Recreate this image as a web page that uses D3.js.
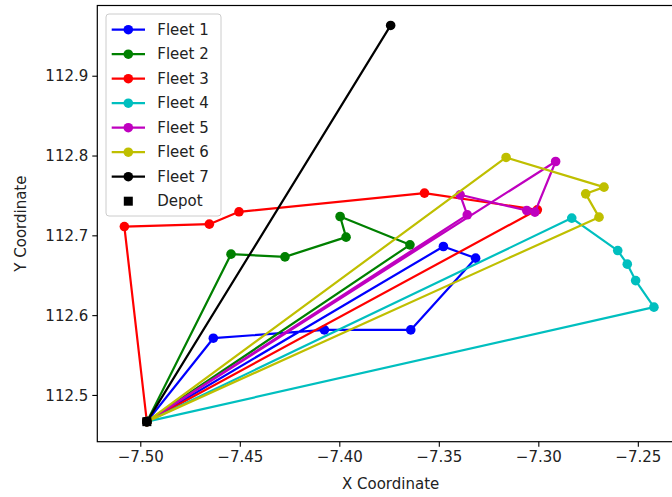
<!DOCTYPE html>
<html>
<head>
  <meta charset="utf-8">
  <script src="https://d3js.org/d3.v7.min.js"></script>
  <style>
    body { margin: 0; background: #fff; }
    svg { font-family: "DejaVu Sans", sans-serif; }
  </style>
</head>
<body>
  <div id="chart"></div>
  <script>
    // route data (x = longitude-ish, y = latitude-ish)
    var depot = [-7.4967, 112.4665];

    var fleetNames = ["Fleet 1", "Fleet 2", "Fleet 3", "Fleet 4", "Fleet 5", "Fleet 6", "Fleet 7"];
    var fleetColors = ["#0000ff", "#008000", "#ff0000", "#00bfbf", "#bf00bf", "#bfbf00", "#000000"];

    var fleet1 = [[-7.4633, 112.5711], [-7.4075, 112.5815], [-7.3641, 112.5815], [-7.3315, 112.6714], [-7.3477, 112.6860]];
    var fleet2 = [[-7.4544, 112.6764], [-7.4273, 112.6730], [-7.3966, 112.6977], [-7.3996, 112.7236], [-7.3645, 112.6881]];
    var fleet3 = [[-7.5080, 112.7110], [-7.4653, 112.7140], [-7.4504, 112.7295], [-7.3572, 112.7529], [-7.3005, 112.7320]];
    var fleet4 = [[-7.2832, 112.7216], [-7.2601, 112.6809], [-7.2553, 112.6639], [-7.2511, 112.6433], [-7.2419, 112.6100]];
    var fleet5 = [[-7.3357, 112.7257], [-7.3393, 112.7508], [-7.3058, 112.7311], [-7.3017, 112.7291], [-7.2913, 112.7925]];
    var fleet6 = [[-7.3162, 112.7976], [-7.2670, 112.7604], [-7.2762, 112.7520], [-7.2695, 112.7228]];
    var fleet7 = [[-7.3742, 112.9630]];

    var xTicks = [-7.50, -7.45, -7.40, -7.35, -7.30, -7.25];
    var yTicks = [112.5, 112.6, 112.7, 112.8, 112.9];

    var W = 672, H = 497;
    var plot = { left: 97.3, right: 684, top: 5.5, bottom: 441.7 };

    var routes = [fleet1, fleet2, fleet3, fleet4, fleet5, fleet6, fleet7].map(function (stops) {
      return [depot].concat(stops, [depot]);
    });

    var x = d3.scaleLinear().domain([-7.5216, -7.2268]).range([plot.left, plot.right]);
    var y = d3.scaleLinear().domain([112.4414, 112.988]).range([plot.bottom, plot.top]);

    var svg = d3.select("#chart").append("svg")
      .attr("width", W).attr("height", H);

    var line = d3.line().x(d => x(d[0])).y(d => y(d[1]));

    var g = svg.append("g");

    routes.forEach(function (r, i) {
      var fg = g.append("g");
      fg.append("path")
        .attr("d", line(r))
        .attr("fill", "none")
        .attr("stroke", fleetColors[i])
        .attr("stroke-width", 2.2)
        .attr("stroke-linejoin", "round")
        .attr("stroke-linecap", "square");
      fg.selectAll("circle").data(r).enter().append("circle")
        .attr("cx", d => x(d[0]))
        .attr("cy", d => y(d[1]))
        .attr("r", 4.8)
        .attr("fill", fleetColors[i]);
    });

    // depot marker
    g.append("rect")
      .attr("x", x(depot[0]) - 4.5)
      .attr("y", y(depot[1]) - 4.5)
      .attr("width", 9).attr("height", 9)
      .attr("fill", "#000");

    // axes
    var xAxis = d3.axisBottom(x).tickValues(xTicks).tickSize(5)
      .tickFormat(d => d3.format(".2f")(d).replace("-", "\u2212"));
    var yAxis = d3.axisLeft(y).tickValues(yTicks).tickSize(5)
      .tickFormat(d3.format(".1f"));

    var gx = svg.append("g").attr("transform", "translate(0," + plot.bottom + ")").call(xAxis);
    var gy = svg.append("g").attr("transform", "translate(" + plot.left + ",0)").call(yAxis);

    [gx, gy].forEach(function (a) {
      a.select(".domain").remove();
      a.selectAll(".tick line").attr("stroke", "#000").attr("stroke-width", 1.1);
      a.selectAll(".tick text").attr("fill", "#222").style("font-size", "15px")
        .style("font-family", "DejaVu Sans");
    });
    gx.selectAll(".tick text").attr("dy", "0.95em").attr("y", 6);
    gy.selectAll(".tick text").attr("x", -9).attr("dy", "0.35em");

    // spines
    svg.append("rect")
      .attr("x", plot.left).attr("y", plot.top)
      .attr("width", plot.right - plot.left).attr("height", plot.bottom - plot.top)
      .attr("fill", "none").attr("stroke", "#000").attr("stroke-width", 1.2);

    svg.append("text")
      .attr("x", (plot.left + plot.right) / 2)
      .attr("y", 489)
      .attr("text-anchor", "middle")
      .style("font-size", "15px").attr("fill", "#222")
      .text("X Coordinate");

    svg.append("text")
      .attr("transform", "translate(26," + ((plot.top + plot.bottom) / 2) + ") rotate(-90)")
      .attr("text-anchor", "middle")
      .style("font-size", "15px").attr("fill", "#222")
      .text("Y Coordinate");

    // legend
    var leg = svg.append("g");
    leg.append("rect")
      .attr("x", 106).attr("y", 14).attr("width", 115).attr("height", 202)
      .attr("rx", 3)
      .attr("fill", "#fff").attr("fill-opacity", 0.8)
      .attr("stroke", "#cccccc").attr("stroke-width", 1);

    var legItems = fleetNames.map((n, i) => ({ name: n, color: fleetColors[i], type: "line" }))
      .concat([{ name: "Depot", color: "#000", type: "square" }]);

    legItems.forEach(function (it, i) {
      var cy = 29.7 + i * 24.5;
      var row = leg.append("g");
      if (it.type === "line") {
        row.append("line")
          .attr("x1", 111.7).attr("x2", 145).attr("y1", cy).attr("y2", cy)
          .attr("stroke", it.color).attr("stroke-width", 2.2);
        row.append("circle")
          .attr("cx", 128.3).attr("cy", cy).attr("r", 4.8).attr("fill", it.color);
      } else {
        row.append("rect")
          .attr("x", 128.3 - 4.5).attr("y", cy - 4.5)
          .attr("width", 9).attr("height", 9).attr("fill", it.color);
      }
      row.append("text")
        .attr("x", 157.3).attr("y", cy).attr("dy", "0.35em")
        .style("font-size", "15px").attr("fill", "#222")
        .text(it.name);
    });
  </script>
</body>
</html>
